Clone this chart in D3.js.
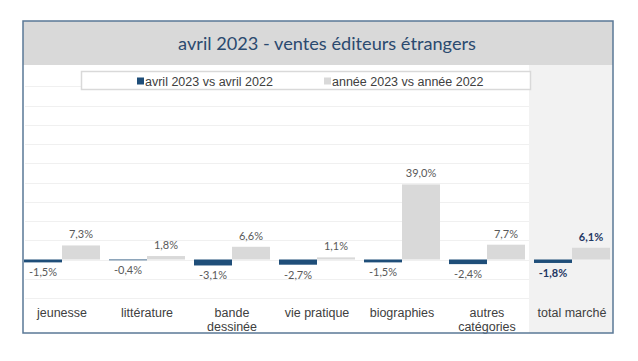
<!DOCTYPE html>
<html>
<head>
<meta charset="utf-8">
<script src="https://cdn.jsdelivr.net/npm/d3@7"></script>
<style>
  html, body { margin: 0; padding: 0; background: #fff; }
  svg { display: block; }
</style>
</head>
<body>
<div id="chart"></div>
<script>
const categories = ['jeunesse', 'littérature', 'bande dessinée', 'vie pratique', 'biographies', 'autres catégories', 'total marché'];
const categoryLines = [['jeunesse'], ['littérature'], ['bande', 'dessinée'], ['vie pratique'], ['biographies'], ['autres', 'catégories'], ['total marché']];
const avrilValues = [-1.5, -0.4, -3.1, -2.7, -1.5, -2.4, -1.8];
const anneeValues = [7.3, 1.8, 6.6, 1.1, 39.0, 7.7, 6.1];
const seriesNames = ['avril 2023 vs avril 2022', 'année 2023 vs année 2022'];
const yTicks = [-20, -10, 0, 10, 20, 30, 40, 50, 60, 70, 80, 90];

const width = 638;
const height = 361;
const darkBlue = '#1f4e79';
const lightGray = '#d9d9d9';

const svg = d3.select('#chart')
  .append('svg')
  .attr('width', width)
  .attr('height', height);

const frame = { left: 23, top: 21, right: 613, bottom: 333 };
const bandBottom = 65;

// total marché column shading
const x = d3.scaleBand()
  .domain(categories)
  .range([19.5, 614.5])
  .paddingInner(0.106)
  .paddingOuter(0.053);

const xSeries = d3.scaleBand()
  .domain(['avril', 'annee'])
  .range([0, x.bandwidth()]);

const y = d3.scaleLinear()
  .domain([-20, 100])
  .range([298, 67]);

const totalLeft = x('total marché') - (x.step() - x.bandwidth()) / 2 - 0.5;
svg.append('rect')
  .attr('x', totalLeft)
  .attr('y', bandBottom)
  .attr('width', frame.right - totalLeft)
  .attr('height', frame.bottom - bandBottom)
  .attr('fill', '#f2f2f2');

// gridlines
svg.append('g')
  .selectAll('line')
  .data(yTicks)
  .enter()
  .append('line')
  .attr('x1', frame.left + 2)
  .attr('x2', totalLeft)
  .attr('y1', d => Math.round(y(d)) + 0.5)
  .attr('y2', d => Math.round(y(d)) + 0.5)
  .attr('stroke', '#f0f0f0')
  .attr('stroke-width', 1);

// bars
const groups = svg.append('g')
  .selectAll('g')
  .data(categories)
  .enter()
  .append('g')
  .attr('transform', d => `translate(${x(d)},0)`);

groups.append('rect')
  .attr('x', xSeries('avril'))
  .attr('y', (d, i) => y(Math.max(0, avrilValues[i])))
  .attr('width', xSeries.bandwidth())
  .attr('height', (d, i) => Math.abs(y(avrilValues[i]) - y(0)))
  .attr('fill', darkBlue);

groups.append('rect')
  .attr('x', xSeries('annee'))
  .attr('y', (d, i) => y(Math.max(0, anneeValues[i])))
  .attr('width', xSeries.bandwidth())
  .attr('height', (d, i) => Math.abs(y(anneeValues[i]) - y(0)))
  .attr('fill', lightGray);

const fmt = v => `${v.toFixed(1).replace('.', ',')}%`;
const isTotal = d => d === 'total marché';

// value labels
groups.append('text')
  .attr('x', xSeries('avril') + xSeries.bandwidth() / 2)
  .attr('y', (d, i) => y(avrilValues[i]) + 14)
  .attr('text-anchor', 'middle')
  .style('font-family', 'Lato, sans-serif')
  .style('font-size', '11px')
  .style('font-weight', d => (isTotal(d) ? 'bold' : 'normal'))
  .attr('fill', d => (isTotal(d) ? '#1f3864' : '#595959'))
  .text((d, i) => fmt(avrilValues[i]));

groups.append('text')
  .attr('x', xSeries('annee') + xSeries.bandwidth() / 2)
  .attr('y', (d, i) => y(anneeValues[i]) - 7)
  .attr('text-anchor', 'middle')
  .style('font-family', 'Lato, sans-serif')
  .style('font-size', '11px')
  .style('font-weight', d => (isTotal(d) ? 'bold' : 'normal'))
  .attr('fill', d => (isTotal(d) ? '#1f3864' : '#595959'))
  .text((d, i) => fmt(anneeValues[i]));

// category labels
groups.append('text')
  .attr('x', x.bandwidth() / 2)
  .attr('y', 317)
  .attr('text-anchor', 'middle')
  .style('font-family', '"Liberation Sans", Arial, sans-serif')
  .style('font-size', '12.5px')
  .attr('fill', '#404040')
  .each(function (d, i) {
    const t = d3.select(this);
    categoryLines[i].forEach((line, j) => {
      t.append('tspan')
        .attr('x', x.bandwidth() / 2)
        .attr('dy', j === 0 ? 0 : 14)
        .text(line);
    });
  });

// title band
svg.append('rect')
  .attr('x', frame.left)
  .attr('y', frame.top)
  .attr('width', frame.right - frame.left)
  .attr('height', bandBottom - frame.top)
  .attr('fill', lightGray);

const title = svg.append('text')
  .attr('x', 327)
  .attr('y', 50)
  .attr('text-anchor', 'middle')
  .style('font-family', 'Lato, sans-serif')
  .style('font-size', '20px')
  .attr('fill', '#2b4a6f')
  .text('avril 2023 - ventes éditeurs étrangers');
const tw = title.node().getComputedTextLength();
title.style('font-size', `${20 * 298 / tw}px`);

// legend
const legend = svg.append('g');
legend.append('rect')
  .attr('x', 81.5)
  .attr('y', 71.5)
  .attr('width', 449)
  .attr('height', 18)
  .attr('fill', '#fff')
  .attr('stroke', '#d9d9d9')
  .attr('stroke-width', 1.5);

const legendX = [137, 324];
const legendColors = [darkBlue, lightGray];
seriesNames.forEach((name, i) => {
  legend.append('rect')
    .attr('x', legendX[i])
    .attr('y', 77.5)
    .attr('width', 7)
    .attr('height', 7)
    .attr('fill', legendColors[i]);
  legend.append('text')
    .attr('x', legendX[i] + 8)
    .attr('y', 85.5)
    .style('font-family', '"Liberation Sans", Arial, sans-serif')
    .style('font-size', '12.5px')
    .attr('fill', '#404040')
    .text(name);
});

// frame
svg.append('rect')
  .attr('x', frame.left)
  .attr('y', frame.top)
  .attr('width', frame.right - frame.left)
  .attr('height', frame.bottom - frame.top)
  .attr('fill', 'none')
  .attr('stroke', '#5a7896')
  .attr('stroke-width', 1.5);
</script>
</body>
</html>
